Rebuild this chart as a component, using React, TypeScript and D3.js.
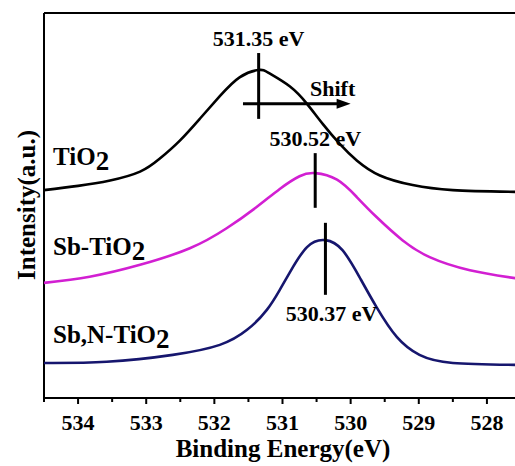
import * as d3 from "d3";

// O 1s spectra (binding energy in eV, intensity in a.u.)
const tio2Energy = [534.5, 534.0, 533.53, 533.09, 532.8, 532.51, 532.21, 531.92, 531.63, 531.35, 531.19, 530.89, 530.64, 530.41, 530.16, 529.91, 529.57, 529.09, 528.5, 527.5];
const tio2Intensity = [54.0, 55.1, 56.5, 58.8, 62.2, 66.8, 72.6, 78.4, 83.3, 85.2, 84.3, 80.9, 76.4, 71.2, 66.0, 61.7, 57.8, 55.3, 54.0, 53.5];

const sbEnergy = [534.5, 533.83, 533.09, 532.36, 531.82, 531.38, 531.04, 530.75, 530.52, 530.2, 529.91, 529.62, 529.24, 528.84, 528.25, 527.5];
const sbIntensity = [29.9, 31.5, 34.6, 38.9, 44.1, 49.6, 54.3, 57.6, 58.4, 56.7, 52.2, 47.0, 41.0, 36.6, 33.2, 30.9];

const sbnEnergy = [534.5, 533.58, 532.61, 531.92, 531.52, 531.23, 531.04, 530.89, 530.64, 530.37, 530.12, 529.87, 529.62, 529.32, 528.99, 528.5, 527.5];
const sbnIntensity = [9.1, 9.4, 11.2, 13.8, 17.7, 22.9, 28.1, 32.7, 39.2, 41.0, 38.4, 31.4, 23.6, 15.8, 11.2, 9.1, 8.6];

const seriesNames = ["TiO2", "Sb-TiO2", "Sb,N-TiO2"];
const seriesColors = ["#000000", "#d21fd2", "#16166e"];

// peak markers: energy, low / high intensity of the vertical bar, label text
const peakEnergy = [531.35, 530.52, 530.37];
const peakBarLow = [72.5, 49.4, 26.8];
const peakBarHigh = [89.6, 63.6, 45.5];
const peakLabels = ["531.35 eV", "530.52 eV", "530.37 eV"];

const xTicks = [534, 533, 532, 531, 530, 529, 528];

const W = 515;
const H = 466;
const margin = { left: 44, top: 13, right: 521, bottom: 398 };
const font = '"Liberation Serif", "DejaVu Serif", "Noto Serif", Times, serif';

export default function App() {
  const x = d3.scaleLinear().domain([534.5, 527.5]).range([margin.left, margin.right]);
  const y = d3.scaleLinear().domain([0, 100]).range([margin.bottom, margin.top]);

  const line = d3
    .line<[number, number]>()
    .x((d) => x(d[0]))
    .y((d) => y(d[1]))
    .curve(d3.curveNatural);

  const series = [
    d3.zip(tio2Energy, tio2Intensity),
    d3.zip(sbEnergy, sbIntensity),
    d3.zip(sbnEnergy, sbnIntensity),
  ] as [number, number][][];

  const minorTicks = d3.range(534.5, 527.4, -0.5).filter((v) => !xTicks.includes(v));

  // label placement (left side, baseline)
  const labelY = [165, 255, 343];
  // peak label placement: baseline y, and text center energy
  const peakLabelY = [46, 146, 321];
  const peakLabelX = [531.35, 530.52, 530.28];

  // shift arrow
  const arrowFrom = 531.58;
  const arrowTo = 530.0;
  const arrowI = 76.4;

  return (
    <svg
      width={W}
      height={H}
      style={{ position: "absolute", left: 0, top: 0, background: "#fff" }}
    >
      <g fontFamily={font} fontWeight="bold" fill="#000">
        {/* frame */}
        <line x1={margin.left} x2={W + 10} y1={margin.top} y2={margin.top} stroke="#000" strokeWidth={2} />
        <line x1={margin.left} x2={margin.left} y1={margin.top} y2={margin.bottom} stroke="#000" strokeWidth={2} />
        <line x1={margin.left} x2={W + 10} y1={margin.bottom} y2={margin.bottom} stroke="#000" strokeWidth={2} />
        <line x1={margin.right} x2={margin.right} y1={margin.top} y2={margin.bottom} stroke="#000" strokeWidth={2} />

        {/* bottom ticks */}
        {xTicks.map((t) => (
          <g key={t}>
            <line x1={x(t)} x2={x(t)} y1={margin.bottom} y2={margin.bottom + 6} stroke="#000" strokeWidth={2} />
            <text x={x(t)} y={430} textAnchor="middle" fontSize={22}>
              {t}
            </text>
          </g>
        ))}
        {minorTicks.map((t) => (
          <line key={t} x1={x(t)} x2={x(t)} y1={margin.bottom} y2={margin.bottom + 4} stroke="#000" strokeWidth={2} />
        ))}

        {/* axis titles */}
        <text x={283} y={457} textAnchor="middle" fontSize={25}>
          Binding Energy(eV)
        </text>
        <text transform="translate(35,205) rotate(-90)" textAnchor="middle" fontSize={25}>
          Intensity(a.u.)
        </text>

        {/* spectra */}
        {series.map((s, i) => (
          <path key={i} d={line(s) ?? ""} fill="none" stroke={seriesColors[i]} strokeWidth={2.6} />
        ))}

        {/* sample labels */}
        {seriesNames.map((n, i) => (
          <text key={n} x={53} y={labelY[i]} fontSize={25}>
            {n.slice(0, -1)}
            <tspan dy={5} fontSize={27}>
              {n.slice(-1)}
            </tspan>
          </text>
        ))}

        {/* peak markers */}
        {peakEnergy.map((e, i) => (
          <g key={e}>
            <line x1={x(e)} x2={x(e)} y1={y(peakBarLow[i])} y2={y(peakBarHigh[i])} stroke="#000" strokeWidth={3} />
            <text x={x(peakLabelX[i])} y={peakLabelY[i]} textAnchor="middle" fontSize={22}>
              {peakLabels[i]}
            </text>
          </g>
        ))}

        {/* shift arrow */}
        <line x1={x(arrowFrom)} x2={x(arrowTo) - 10} y1={y(arrowI)} y2={y(arrowI)} stroke="#000" strokeWidth={3} />
        <path
          d={`M${x(arrowTo)},${y(arrowI)} L${x(arrowTo) - 14},${y(arrowI) - 5} L${x(arrowTo) - 14},${y(arrowI) + 5} Z`}
          fill="#000"
        />
        <text x={310} y={96} fontSize={22}>
          Shift
        </text>
      </g>
    </svg>
  );
}
